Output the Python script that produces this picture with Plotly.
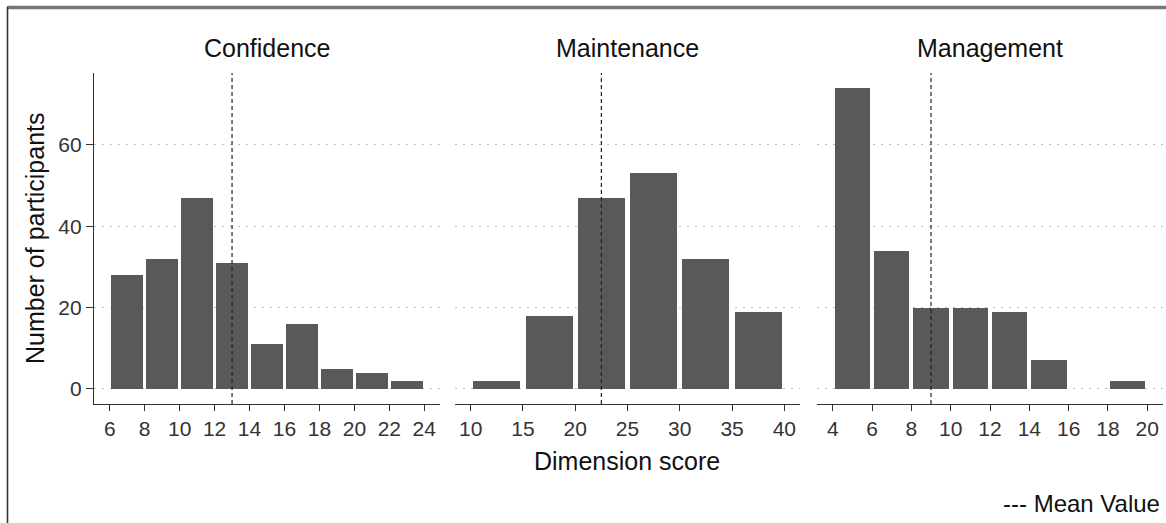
import plotly.graph_objects as go

# ---------------- data ----------------
panel_names = ["Confidence", "Maintenance", "Management"]

conf_bins = [7, 9, 11, 13, 15, 17, 19, 21, 23]
conf_counts = [28, 32, 47, 31, 11, 16, 5, 4, 2]
conf_mean = 13.0
conf_ticks = [6, 8, 10, 12, 14, 16, 18, 20, 22, 24]

maint_bins = [12.5, 17.5, 22.5, 27.5, 32.5, 37.5]
maint_counts = [2, 18, 47, 53, 32, 19]
maint_mean = 22.5
maint_ticks = [10, 15, 20, 25, 30, 35, 40]

manage_bins = [5, 7, 9, 11, 13, 15, 17, 19]
manage_counts = [74, 34, 20, 20, 19, 7, 0, 2]
manage_mean = 9.0
manage_ticks = [4, 6, 8, 10, 12, 14, 16, 18, 20]

y_ticks = [0, 20, 40, 60]

x_title = "Dimension score"
y_title = "Number of participants"
legend_note = "--- Mean Value"

# ---------------- layout helpers ----------------
W, H = 1166, 523
def fx(p):
    return p / W
def fy(p):
    return 1 - p / H

FONT = "Liberation Sans, Arial, Helvetica, sans-serif"
BAR = "#595959"
AX = "#333333"
GRID = "#bdbdbd"

panels = [
    (conf_bins, conf_counts, conf_mean, conf_ticks, 2.0, (94, 440)),
    (maint_bins, maint_counts, maint_mean, maint_ticks, 5.0, (455, 800)),
    (manage_bins, manage_counts, manage_mean, manage_ticks, 2.0, (817, 1163)),
]

fig = go.Figure()
layout = dict(
    width=W, height=H,
    margin=dict(l=0, r=0, t=0, b=0),
    paper_bgcolor="white", plot_bgcolor="white",
    showlegend=False,
    font=dict(family=FONT, color="#222"),
    bargap=0,
)

y_dom = [fy(404), fy(73)]
shapes = []
annotations = []

for i, (bins, counts, mean, ticks, bw, (x0, x1)) in enumerate(panels):
    sfx = "" if i == 0 else str(i + 1)
    lo, hi = ticks[0], ticks[-1]
    pad = (hi - lo) * 0.05
    fig.add_trace(go.Bar(
        x=bins, y=counts, width=bw * 0.9,
        marker=dict(color=BAR, line=dict(width=0)),
        xaxis="x" + sfx, yaxis="y" + sfx,
        hoverinfo="x+y",
    ))
    layout["xaxis" + sfx] = dict(
        domain=[fx(x0), fx(x1)], anchor="y" + sfx,
        range=[lo - pad, hi + pad], tickvals=ticks,
        showline=True, linecolor=AX, linewidth=1.3,
        ticks="outside", ticklen=6, tickwidth=1.3, tickcolor=AX,
        showgrid=False, zeroline=False,
        tickfont=dict(size=21, color="#333", family=FONT),
        fixedrange=True,
    )
    ydict = dict(
        domain=y_dom, anchor="x" + sfx,
        range=[-3.7, 77.7], tickvals=y_ticks,
        showgrid=True, gridcolor=GRID, gridwidth=1.2, griddash="2px,6px",
        zeroline=False, fixedrange=True,
    )
    if i == 0:
        ydict.update(showline=True, linecolor=AX, linewidth=1.3,
                     ticks="outside", ticklen=7, tickwidth=1.3, tickcolor=AX,
                     tickfont=dict(size=21, color="#333", family=FONT))
    else:
        ydict.update(showline=False, ticks="", showticklabels=False, matches="y")
    layout["yaxis" + sfx] = ydict

    # mean line
    shapes.append(dict(
        type="line", xref="x" + sfx, yref="y" + sfx + " domain",
        x0=mean, x1=mean, y0=0, y1=1,
        line=dict(color="#222", width=1.2, dash="4px,3px"), layer="above",
    ))
    # strip title
    annotations.append(dict(
        text=panel_names[i], xref="paper", yref="paper",
        x=fx((x0 + x1) / 2), y=fy(48), xanchor="center", yanchor="middle",
        showarrow=False, font=dict(size=25, color="#111", family=FONT),
    ))

annotations.append(dict(
    text=x_title, xref="paper", yref="paper",
    x=fx(627), y=fy(461), xanchor="center", yanchor="middle",
    showarrow=False, font=dict(size=25, color="#111", family=FONT),
))
annotations.append(dict(
    text=y_title, xref="paper", yref="paper", textangle=-90,
    x=fx(35), y=fy(238), xanchor="center", yanchor="middle",
    showarrow=False, font=dict(size=25, color="#111", family=FONT),
))
annotations.append(dict(
    text=legend_note, xref="paper", yref="paper",
    x=fx(1162), y=fy(503), xanchor="right", yanchor="middle",
    showarrow=False, font=dict(size=24, color="#111", family=FONT),
))

# outer frame of the screenshot
shapes.append(dict(type="line", xref="paper", yref="paper",
                   x0=fx(7), x1=1, y0=fy(7.5), y1=fy(7.5),
                   line=dict(color="#777777", width=3.5)))
shapes.append(dict(type="line", xref="paper", yref="paper",
                   x0=fx(7.5), x1=fx(7.5), y0=fy(7), y1=0,
                   line=dict(color="#333333", width=1.6)))

layout["shapes"] = shapes
layout["annotations"] = annotations
fig.update_layout(**layout)

fig.write_html(
    "out.html",
    config={"displayModeBar": False},
    post_script="document.body.style.margin='0';document.body.style.overflow='hidden';",
)
